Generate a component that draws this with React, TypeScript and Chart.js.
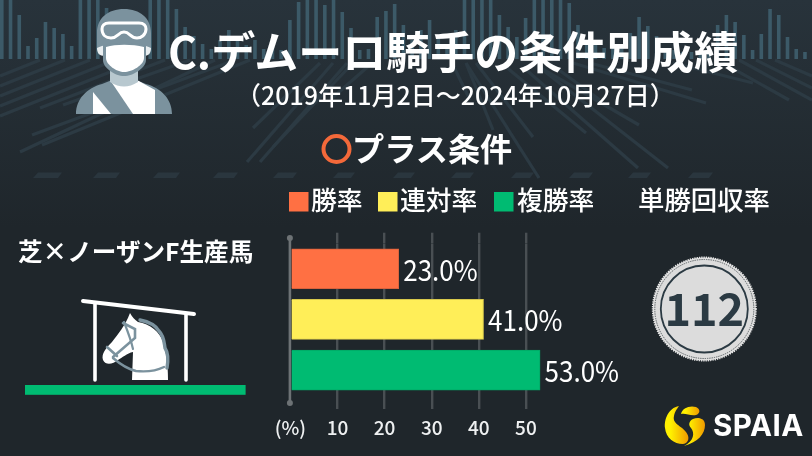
import React, { useEffect, useRef } from "react";
import { Chart, registerables } from "chart.js";

Chart.register(...registerables);

const categories = ["勝率", "連対率", "複勝率"];
const rateValues = [23.0, 41.0, 53.0];
const barColors = ["#ff7043", "#ffee58", "#00bb72"];
const barBorders = ["#d9623c", "#d8c94c", "#00a866"];
const returnRate = "112";
const tickStep = 10;
const axisMax = 55;

const title = "C.デムーロ騎手の条件別成績";
const period = "（2019年11月2日～2024年10月27日）";
const section = "プラス条件";
const condition = "芝×ノーザンF生産馬";
const returnLabel = "単勝回収率";

const FONT = '"Noto Sans CJK JP", "Noto Sans", sans-serif';
const FONT_MEDIUM = '"Noto Sans CJK JP Medium", "Noto Sans CJK JP", "Noto Sans", sans-serif';

// decorative backdrop: top edge of each equaliser bar
const backdropTops = [
  0, 0, 15, 46, 38, 22, 28, 34, 46, 0, 0, 0, 8, 20, 20, 40, 20, 0, 0, 0, 9, 27, 36, 44, 49, 40, 30, 40, 45, 40, 49,
  44, 50, 20, 2, 0, 0, 5, 0, 12, 28, 50, 49, 17, 11, 4, 25, 40, 30, 20, 35, 45, 30, 0, 0, 0, 0, 15, 27, 37, 18, 0,
  0, 0, 0, 3, 25, 40, 45, 48, 45, 44, 33, 17, 26, 36, 48, 50, 52, 52, 54, 52, 25, 15, 22, 35, 50, 34, 9, 15, 37, 49, 52,
];
// decorative backdrop: perspective stripes [x1, y1, x2, y2]
const backdropStripes = [
  [40, 60, 0, 76], [65, 60, 0, 86], [90, 60, 0, 96], [115, 60, 0, 106], [140, 60, 0, 116],
  [165, 60, 40, 108], [190, 60, 63, 105], [215, 60, 20, 152], [235, 60, 32, 135], [250, 60, 42, 145],
  [320, 63, 253, 128], [333, 63, 247, 162], [347, 63, 260, 162], [353, 63, 273, 147], [372, 63, 330, 100],
  [466, 63, 493, 130], [466, 63, 539, 178], [476, 63, 533, 137], [452, 63, 470, 100],
  [506, 67, 586, 133], [523, 67, 638, 168], [539, 67, 668, 168], [539, 67, 639, 125], [555, 67, 600, 100],
  [573, 63, 706, 103], [590, 63, 692, 90], [673, 63, 753, 83], [723, 63, 789, 100], [739, 60, 812, 100],
  [756, 60, 812, 88], [775, 60, 812, 76],
];
const backdropDashes = [
  [33, 62], [93, 120], [153, 180], [213, 238], [273, 297], [333, 355], [393, 415], [451, 474], [511, 534], [569, 593],
  [628, 651], [688, 713],
];

const dataLabels = {
  id: "dataLabels",
  afterDatasetsDraw(chart: any) {
    const { ctx } = chart;
    const meta = chart.getDatasetMeta(0);
    ctx.fillStyle = "#ffffff";
    ctx.font = `400 26px ${FONT}`;
    ctx.textAlign = "left";
    ctx.textBaseline = "middle";
    meta.data.forEach((bar: any, i: number) => {
      ctx.save();
      ctx.translate(bar.x + 4.5, bar.y + 1);
      ctx.scale(1, 1.1);
      ctx.fillText(`${rateValues[i].toFixed(1)}%`, 0, 0);
      ctx.restore();
    });
  },
};

const zeroAxis = {
  id: "zeroAxis",
  beforeDatasetsDraw(chart: any) {
    const { ctx, chartArea, scales } = chart;
    const x = scales.x.getPixelForValue(0) - 0.5;
    const top = chartArea.top - 5.4;
    const bottom = chartArea.bottom + 7.6;
    ctx.save();
    ctx.strokeStyle = "#6d7275";
    ctx.fillStyle = "#6d7275";
    ctx.lineWidth = 2.6;
    ctx.beginPath();
    ctx.moveTo(x, top);
    ctx.lineTo(x, bottom);
    ctx.stroke();
    [top, bottom].forEach((y) => {
      ctx.beginPath();
      ctx.arc(x, y, 3, 0, Math.PI * 2);
      ctx.fill();
    });
    ctx.restore();
  },
};

function BarChart() {
  const ref = useRef<HTMLCanvasElement>(null);
  useEffect(() => {
    const gridColor = (c: any) => (c.tick && c.tick.value === 0 ? "rgba(0,0,0,0)" : "#494f53");
    const chart = new Chart(ref.current as HTMLCanvasElement, {
      type: "bar",
      data: {
        labels: categories,
        datasets: [
          {
            data: rateValues,
            backgroundColor: barColors,
            borderColor: barBorders,
            borderWidth: 1,
            barThickness: 40,
          },
        ],
      },
      plugins: [zeroAxis, dataLabels],
      options: {
        indexAxis: "y",
        responsive: false,
        animation: false,
        devicePixelRatio: 1,
        layout: { padding: { left: 290.4, right: 262.5, top: 232.7, bottom: 0 } },
        plugins: { legend: { display: false }, tooltip: { enabled: false } },
        scales: {
          y: { display: false, grid: { display: false } },
          x: {
            min: 0,
            max: axisMax,
            position: "bottom",
            border: { display: false },
            afterFit(s: any) {
              s.height = 60.6;
            },
            grid: { color: gridColor, tickColor: gridColor, lineWidth: 2.4, tickLength: 13.6 },
            ticks: {
              stepSize: tickStep,
              includeBounds: false,
              maxRotation: 0,
              autoSkip: false,
              padding: 7,
              color: "#eef0f1",
              font: { family: FONT_MEDIUM, size: 19, weight: "500" },
              callback: (v: any) => (v === 0 ? "(%)" : String(v)),
            },
          },
          xTop: {
            type: "linear",
            axis: "x",
            position: "top",
            min: 0,
            max: axisMax,
            border: { display: false },
            grid: { color: gridColor, tickColor: gridColor, lineWidth: 2.4, tickLength: 10.7, drawOnChartArea: false },
            ticks: { display: false, stepSize: tickStep, includeBounds: false },
          },
        },
      },
    } as any);
    return () => chart.destroy();
  }, []);
  return (
    <canvas ref={ref} width={812} height={456} style={{ position: "absolute", left: 0, top: 0, width: 812, height: 456 }} />
  );
}

function Backdrop() {
  return (
    <svg width={812} height={456} style={{ position: "absolute", left: 0, top: 0 }}>
      <defs>
        <linearGradient id="bg" x1="0" y1="0" x2="0" y2="1">
          <stop offset="0" stopColor="#28333b" />
          <stop offset="0.5" stopColor="#1f262b" />
          <stop offset="1" stopColor="#1f262b" />
        </linearGradient>
      </defs>
      <rect x={0} y={0} width={812} height={456} fill="url(#bg)" />
      {backdropTops.map((t, i) => (
        <rect key={i} x={8.73 * i} y={t} width={3.6} height={59 - t} fill="#3c5a68" />
      ))}
      {backdropStripes.map((s, i) => (
        <line key={i} x1={s[0]} y1={s[1]} x2={s[2]} y2={s[3]} stroke="#2c3a43" strokeWidth={3.2} />
      ))}
      {backdropDashes.map((d, i) => (
        <polygon key={i} points={`${d[0] + 5},172.5 ${d[1]},172.5 ${d[1] - 4},178 ${d[0]},178`} fill="#2a363e" />
      ))}
    </svg>
  );
}

function Jockey() {
  return (
    <svg width={812} height={456} style={{ position: "absolute", left: 0, top: 0 }}>
      <path d="M76 114 C76 99 87 88 102 84 L112 80 L136 80 L146 84 C161 88 172 99 172 114 Z" fill="#7b929e" />
      <path d="M93 92 L111 114 L93 114 Z" fill="#fff" />
      <path d="M110 80 L137 80 L155 90 L155 114 L133 114 Z" fill="#fff" />
      <path d="M110 69 L138 69 L138 82 C128 88 120 88 110 82 Z" fill="#b8c8cf" />
      <path d="M97 48 C97 43 99 42 105 43 L105 56 C99 56 97 53 97 48 Z" fill="#e9eef0" />
      <path d="M151 48 C151 43 149 42 143 43 L143 56 C149 56 151 53 151 48 Z" fill="#e9eef0" />
      <path d="M97 48 L97 33 C97 18 108 9 124 9 C140 9 151 18 151 33 L151 48 C140 42 108 42 97 48 Z" fill="#7b929e" />
      <path d="M103 60 L103 45 C115 42 133 42 146 45 L146 60 C146 68 133 76 124 76 C115 76 103 68 103 60 Z" fill="#7b929e" />
      <path d="M106 58 L106 47 C116 44 132 44 144 47 L144 58 C144 65 132 72 124 72 C117 72 106 65 106 58 Z" fill="#fff" />
      <path d="M109 23 L139 23 C144 23 146 26 146 29 C146 35 141 38 137 38 C130 38 130 32 124 32 C118 32 118 38 111 38 C106 38 102 35 102 29 C102 26 104 23 109 23 Z" fill="#7b929e" stroke="#fff" strokeWidth={3} />
    </svg>
  );
}

function Stable() {
  return (
    <svg width={812} height={456} style={{ position: "absolute", left: 0, top: 0 }}>
      <g stroke="#fff" strokeLinecap="round" fill="none">
        <line x1={83} y1={301} x2={194} y2={314} strokeWidth={4} />
        <line x1={95} y1={304} x2={95} y2={380} strokeWidth={3.6} />
        <line x1={186} y1={315} x2={186} y2={380} strokeWidth={3.6} />
      </g>
      <path d="M130 313 C132 317 135 320 138 322 C150 324 160 332 163 342 C166 352 168 362 168 380 L132 380 L133 352 C127 353 122 358 118 360 C113 364 106 366 103 360 C101 354 106 348 112 342 C118 334 125 326 130 313 Z" fill="#fff" />
      <g stroke="#7b929e" fill="none" strokeLinecap="round">
        <path d="M123 323 L135 329 L135 338 L113 357" strokeWidth={2.6} />
        <path d="M124 322 C128 332 131 340 133 349" strokeWidth={2.2} />
        <path d="M107 347 L117 356" strokeWidth={2.6} />
        <path d="M113 358 C120 364 127 369 136 371 C146 372 156 371 164 367" strokeWidth={2.4} />
        <path d="M140 320 C150 322 156 326 159 331 C164 336 164 342 165 348 C169 354 168 362 167 368" strokeWidth={3.4} />
      </g>
      <rect x={25} y={385} width={220.6} height={9.8} fill="#00bb72" />
    </svg>
  );
}

function Coin() {
  const cx = 704.3;
  const cy = 309;
  return (
    <svg width={812} height={456} style={{ position: "absolute", left: 0, top: 0 }}>
      <circle cx={cx} cy={cy} r={51.5} fill="#dcdcdc" stroke="#e6e6e6" strokeWidth={2} strokeDasharray="1.3 1" />
      <circle cx={cx} cy={cy} r={49.5} fill="none" stroke="#555c60" strokeWidth={1} strokeDasharray="1.3 1" />
      <circle cx={cx} cy={cy} r={43.5} fill="none" stroke="#2b3a43" strokeWidth={1.8} />
      <text x={cx} y={326} textAnchor="middle" fontFamily={FONT} fontWeight={700} fontSize={45} fill="#2b3a43">
        {returnRate}
      </text>
    </svg>
  );
}

function Logo() {
  return (
    <svg width={812} height={456} style={{ position: "absolute", left: 0, top: 0 }}>
      <defs>
        <linearGradient id="logo" x1="0" y1="0" x2="1" y2="0">
          <stop offset="0.25" stopColor="#fff000" />
          <stop offset="1" stopColor="#f09a00" />
        </linearGradient>
      </defs>
      <path d="M679 406 C668 408 664 420 665 428 C666 438 674 444 683 444 C689 443 690 437 686 432 C682 426 672 424 674 416 C675 411 677 409 679 406 Z" fill="url(#logo)" />
      <path d="M684 446 C698 442 705 434 705 425 C705 418 698 417 693 419 C689 421 688 425 691 428 C695 433 694 441 684 446 Z" fill="url(#logo)" />
      <path d="M681 414 C682 408 690 405 696 407 C701 409 700 414 696 415 C690 416 686 413 681 414 Z" fill="url(#logo)" />
      <text x={713} y={436} fontFamily="Inter, Lato, sans-serif" fontWeight={700} fontSize={29.5} letterSpacing={0.5} fill="#fff">
        SPAIA
      </text>
    </svg>
  );
}

function Texts() {
  const t = (x: number, y: number, size: number, weight: number, s: string, family = FONT) => (
    <text x={x} y={y} fontSize={size} fontWeight={weight} fontFamily={family} fill="#fff">
      {s}
    </text>
  );
  const squares = [
    [289, 192], [378, 192], [494, 192],
  ];
  const legendX = [311, 400, 517];
  return (
    <svg width={812} height={456} style={{ position: "absolute", left: 0, top: 0 }}>
      {t(168, 69, 44, 700, title)}
      {t(236, 105, 25, 500, period, FONT_MEDIUM)}
      <circle cx={336.5} cy={149} r={13} fill="none" stroke="#f4693a" strokeWidth={4} />
      {t(352, 161, 32.2, 700, section)}
      {squares.map((p, i) => (
        <rect key={i} x={p[0]} y={p[1]} width={19.5} height={19.5} fill={barColors[i]} />
      ))}
      {categories.map((c, i) => (
        <text key={c} x={legendX[i]} y={210} fontSize={25.8} fontWeight={500} fontFamily={FONT_MEDIUM} fill="#fff">
          {c}
        </text>
      ))}
      {t(638, 210, 26.4, 500, returnLabel, FONT_MEDIUM)}
      {t(18, 261, 24.6, 700, condition)}
    </svg>
  );
}

export default function App() {
  return (
    <div style={{ position: "absolute", left: 0, top: 0, width: 812, height: 456, overflow: "hidden", background: "#1f262b" }}>
      <Backdrop />
      <Jockey />
      <Stable />
      <BarChart />
      <Coin />
      <Logo />
      <Texts />
    </div>
  );
}
